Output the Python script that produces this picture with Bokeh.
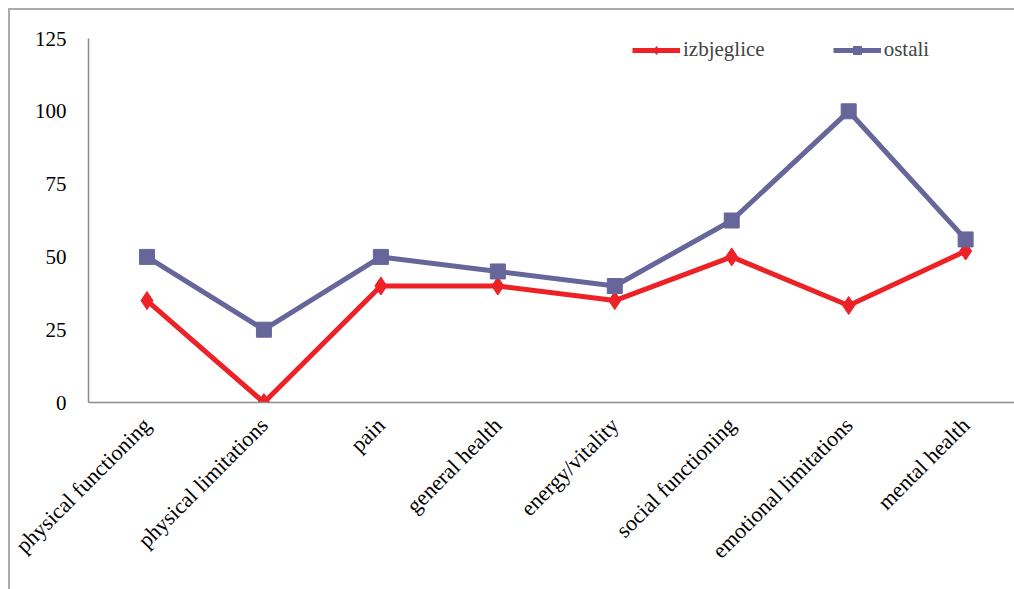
import math
from bokeh.plotting import figure
from bokeh.models import Range1d, FixedTicker, Legend, LegendItem
from bokeh.embed import file_html
from bokeh.resources import INLINE

categories = ["physical functioning", "physical limitations", "pain", "general health",
              "energy/vitality", "social functioning", "emotional limitations", "mental health"]
izbjeglice = [35, 0, 40, 40, 35, 50, 33.3, 52]
ostali = [50, 25, 50, 45, 40, 62.5, 100, 56]
y_ticks = [0, 25, 50, 75, 100, 125]

x = list(range(len(categories)))
FONT = "'Liberation Serif', 'Times New Roman', serif"

p = figure(width=1006, height=581, output_backend="svg", toolbar_location=None,
           x_range=Range1d(-0.5, 7.435), y_range=Range1d(0, 125),
           min_border_left=78, min_border_top=28, min_border_bottom=189, min_border_right=0,
           margin=(8, 0, 0, 8))
p.styles = {"border-left": "2px solid #ababab", "border-top": "2px solid #ababab"}
p.outline_line_color = None
p.xgrid.grid_line_color = None
p.ygrid.grid_line_color = None
p.background_fill_color = "white"
p.border_fill_color = "white"

for ax in (p.xaxis[0], p.yaxis[0]):
    ax.axis_line_color = "#8c8c8c"
    ax.axis_line_width = 1.5
    ax.major_tick_line_color = None
    ax.minor_tick_line_color = None
    ax.major_label_text_font = FONT
    ax.major_label_text_font_size = "21px"
    ax.major_label_text_color = "black"

p.yaxis.ticker = FixedTicker(ticks=y_ticks)
p.yaxis.major_label_standoff = 16
p.xaxis.ticker = FixedTicker(ticks=x)
p.xaxis.major_label_overrides = {i: c for i, c in enumerate(categories)}
p.xaxis.major_label_orientation = math.pi / 4
p.xaxis.major_label_standoff = 13
p.xaxis.major_label_text_font_size = "22px"

red = "#ED2226"
blue = "#66669B"
l1 = p.line(x, izbjeglice, line_color=red, line_width=5)
s1 = p.scatter(x, izbjeglice, marker="diamond", size=18, fill_color=red, line_color=red)
l2 = p.line(x, ostali, line_color=blue, line_width=5)
s2 = p.scatter(x, ostali, marker="square", size=15, fill_color=blue, line_color=blue)

legend = Legend(items=[LegendItem(label="izbjeglice", renderers=[l1, s1]),
                       LegendItem(label="ostali", renderers=[l2, s2])],
                location=(544, 340), orientation="horizontal",
                border_line_color=None, background_fill_alpha=0,
                padding=0, margin=0, spacing=68, glyph_width=48, glyph_height=20,
                label_standoff=3, label_height=20,
                label_text_font=FONT, label_text_font_size="21px")
p.add_layout(legend)

open("out.html", "w").write(file_html(p, INLINE))
